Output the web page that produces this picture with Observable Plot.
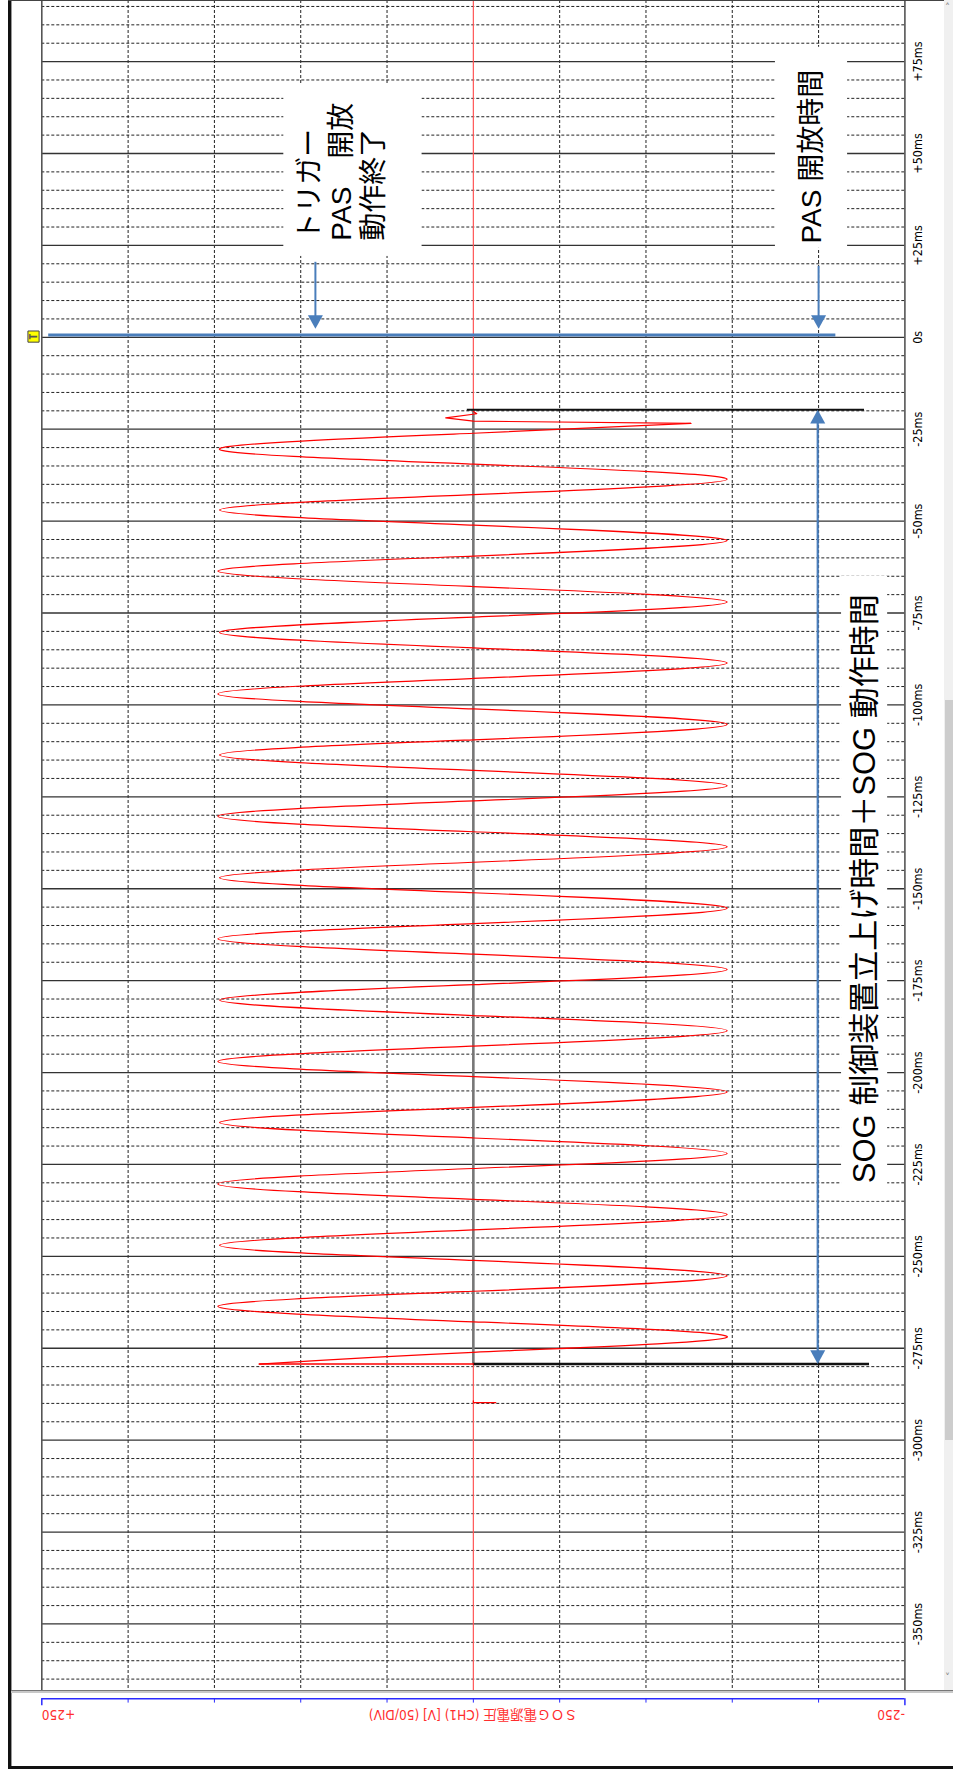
<!DOCTYPE html>
<html><head><meta charset="utf-8">
<script src="https://cdn.jsdelivr.net/npm/d3@7"></script>
<script src="https://cdn.jsdelivr.net/npm/@observablehq/plot@0.6"></script>
<style>
body{margin:0;background:#fff;}
#wrap{position:relative;width:953px;height:1771px;overflow:hidden;background:#fff;}
#wrap svg{position:absolute;left:0;top:0;}
.chrome{position:absolute;}
</style></head><body><div id="wrap"></div>
<script>
// ---------- data ----------
const voltTicks = [250, 200, 150, 100, 50, 0, -50, -100, -150, -200, -250];
const voltEndLabels = ["+250", "-250"];
const axisTitle = "ＳＯＧ電源電圧 (CH1) [V] (50/DIV)";
const timeMajor = [75, 50, 25, 0, -25, -50, -75, -100, -125, -150, -175, -200, -225, -250, -275, -300, -325, -350];
const timeLabels = ["+75ms", "+50ms", "+25ms", "0s", "-25ms", "-50ms", "-75ms", "-100ms", "-125ms", "-150ms", "-175ms", "-200ms", "-225ms", "-250ms", "-275ms", "-300ms", "-325ms", "-350ms"];

// SOG supply voltage trace (ms, V): start step, sine peaks/zeros, cut-off transient
const stepT = [-279.3, -279.3];
const stepV = [0, 124];
const sineT = [-279.3, -276.1, -272.0, -267.8, -263.6, -259.5, -255.3, -251.1, -247.0, -242.8, -238.6, -234.5,
  -230.3, -226.1, -222.0, -217.8, -213.6, -209.5, -205.3, -201.1, -197.0, -192.8, -188.6, -184.5,
  -180.3, -176.1, -172.0, -167.8, -163.6, -159.5, -155.3, -151.1, -147.0, -142.8, -138.6, -134.5,
  -130.3, -126.1, -122.0, -117.8, -113.6, -109.5, -105.3, -101.1, -97.0, -92.8, -88.6, -84.5,
  -80.3, -76.1, -72.0, -67.8, -63.6, -59.5, -55.3, -51.1, -47.0, -42.8, -38.6, -34.5,
  -30.3, -26.1, -23.4];
const sineV = [124, 0, -147, 0, 148, 0, -147, 0, 147, 0, -147, 0,
  148, 0, -147, 0, 147, 0, -147, 0, 148, 0, -147, 0,
  147, 0, -147, 0, 148, 0, -147, 0, 147, 0, -147, 0,
  148, 0, -147, 0, 147, 0, -147, 0, 148, 0, -147, 0,
  147, 0, -147, 0, 148, 0, -147, 0, 147, 0, -147, 0,
  147, 0, -126];
const endT = [-23.4, -22.8, -21.9, -20.8, -20.2];
const endV = [-126, 0, 16, -2, 0];
const blipT = [-289.3, -289.8, -289.8];
const blipV = [0, 0, -13];

// event markers (ms)
const tStart = -279.3, tEnd = -19.7, tTrigger = 0.6;

// annotations
const note1 = "トリガー\nPAS\u3000開放\n動作終了";
const note2 = "PAS 開放時間";
const note3 = "SOG 制御装置立上げ時間＋SOG 動作時間";

// ---------- scales ----------
const W = 953, H = 1771;
const xDomain = [250, -250], yDomain = [-368.1, 91.62];
const xRange = [41.3, 904.4], yRange = [1690, 0];
const yS = Plot.scale({y: {domain: yDomain, range: yRange}});
const ty = px => yS.invert(px);

const blue = "#4a7ebb";
const jp = "'Liberation Sans', Arial, 'Noto Sans CJK JP', sans-serif";
const small = "'DejaVu Sans Condensed', 'Liberation Sans Narrow', 'DejaVu Sans', sans-serif";

const tri = (dir) => ({draw(ctx) {
  ctx.moveTo(0, 0); ctx.lineTo(-7.5, -13.7 * dir); ctx.lineTo(7.5, -13.7 * dir); ctx.closePath();
}});
const down = tri(1), up = tri(-1);

const minorT = d3.range(90, -366, -5).filter(t => t % 25 !== 0);
const innerV = voltTicks.filter(v => Math.abs(v) !== 250 && v !== 0);

const yAxis = ty(1698.3), yTick = ty(1702.6), yTickEnd = ty(1705.2), yLab = ty(1713.5);

const marks = [
  // grid
  Plot.ruleY(minorT, {y: d => d, x1: 250, x2: -250, stroke: "#222", strokeWidth: 1, strokeDasharray: "3,2"}),
  Plot.ruleX(innerV, {x: d => d, stroke: "#222", strokeWidth: 1, strokeDasharray: "3,2"}),
  Plot.ruleY(timeMajor, {y: d => d, x1: 250, x2: -250, stroke: "#333", strokeWidth: 1.3}),
  Plot.ruleX([250, -250], {x: d => d, stroke: "#555", strokeWidth: 1.6}),
  // 0 V trace baseline
  Plot.ruleX([0], {x: d => d, stroke: "#ff5555", strokeWidth: 1.2}),
  Plot.ruleX([0], {x: d => d, y1: tStart, y2: tEnd, stroke: "#777", strokeWidth: 2.6}),
  // start / end markers
  Plot.ruleY([tEnd], {y: d => d, x1: 3.5, x2: -226.6, stroke: "#111", strokeWidth: 2}),
  Plot.ruleY([tStart], {y: d => d, x1: 0, x2: -229.5, stroke: "#111", strokeWidth: 2.4}),
  // trace
  Plot.line(blipT.map((t, i) => ({t, v: blipV[i]})), {x: "v", y: "t", stroke: "#f00", strokeWidth: 1.2}),
  Plot.line(stepT.map((t, i) => ({t, v: stepV[i]})), {x: "v", y: "t", stroke: "#f00", strokeWidth: 1.6}),
  Plot.line(sineT.map((t, i) => ({t, v: sineV[i]})), {x: "v", y: "t", stroke: "#f00", strokeWidth: 1.2, curve: "natural"}),
  Plot.line(endT.map((t, i) => ({t, v: endV[i]})), {x: "v", y: "t", stroke: "#f00", strokeWidth: 1.2}),
  // trigger line
  Plot.ruleY([tTrigger], {y: d => d, x1: 246, x2: -210, stroke: blue, strokeWidth: 3}),
  // double arrow
  Plot.ruleX([-199.5], {x: d => d, y1: tStart + 3, y2: tEnd - 3, stroke: blue, strokeWidth: 2.2}),
  Plot.dot([{v: -199.5, t: tEnd}], {x: "v", y: "t", symbol: up, r: 5, fill: blue, stroke: "none"}),
  Plot.dot([{v: -199.5, t: tStart}], {x: "v", y: "t", symbol: down, r: 5, fill: blue, stroke: "none"}),
  // down arrows to trigger
  Plot.ruleX([91.5], {x: d => d, y1: 4, y2: 20.4, stroke: blue, strokeWidth: 2}),
  Plot.dot([{v: 91.5, t: 2.3}], {x: "v", y: "t", symbol: down, r: 5, fill: blue, stroke: "none"}),
  Plot.ruleX([-200], {x: d => d, y1: 4, y2: 19.3, stroke: blue, strokeWidth: 2}),
  Plot.dot([{v: -200, t: 2.3}], {x: "v", y: "t", symbol: down, r: 5, fill: blue, stroke: "none"}),
  // annotation boxes
  Plot.rect([0], {x1: 109.8, x2: 29.7, y1: 22.0, y2: 69.0, fill: "white"}),
  Plot.rect([0], {x1: -175, x2: -216.8, y1: 24.2, y2: 78.9, fill: "white"}),
  Plot.rect([0], {x1: -213.3, x2: -240, y1: -235, y2: -65, fill: "white"}),
  Plot.text([note1], {x: 76.9, y: 26.3, text: d => d, rotate: -90, textAnchor: "start", lineAnchor: "middle",
    lineHeight: 1.16, fontSize: 28, fontFamily: jp, fill: "#000"}),
  Plot.text([note2], {x: -196.1, y: 25.5, text: d => d, rotate: -90, textAnchor: "start", lineAnchor: "middle",
    fontSize: 28, fontFamily: jp, fill: "#000"}),
  Plot.text([note3], {x: -227.2, y: -150, text: d => d, rotate: -90, textAnchor: "middle", lineAnchor: "middle",
    fontSize: 31, fontFamily: jp, fill: "#000"}),
  // trigger marker
  Plot.dot([{v: 254.8, t: 0.2}], {x: "v", y: "t", symbol: "square", r: 6.3, fill: "#ffff00", stroke: "#444", strokeWidth: 1}),
  Plot.text([{v: 254.8, t: 0.2}], {x: "v", y: "t", text: () => "T", rotate: -90, fontSize: 10, fontWeight: "bold", fill: "#555", lineAnchor: "middle"}),
  // time tick labels (right)
  Plot.text(timeMajor, {x: -250, y: d => d, dx: 13, text: (d, i) => timeLabels[i], rotate: -90, textAnchor: "middle",
    lineAnchor: "middle", fontSize: 12.5, fontFamily: small, fill: "#000"}),
  // bottom voltage axis
  Plot.ruleY([yAxis], {y: d => d, x1: 250, x2: -250, stroke: "#2a2aff", strokeWidth: 1.5}),
  Plot.ruleX(innerV.concat([0]), {x: d => d, y1: yAxis, y2: yTick, stroke: "#2a2aff", strokeWidth: 1}),
  Plot.ruleX([250, -250], {x: d => d, y1: yAxis, y2: yTickEnd, stroke: "#2a2aff", strokeWidth: 1.5}),
  Plot.text([voltEndLabels[0]], {x: 250, y: yLab, text: d => d, rotate: 180, textAnchor: "end", lineAnchor: "middle",
    fontSize: 13.5, fontFamily: small, fill: "#ff2d2d"}),
  Plot.text([voltEndLabels[1]], {x: -250, y: yLab, text: d => d, rotate: 180, textAnchor: "start", lineAnchor: "middle",
    fontSize: 13.5, fontFamily: small, fill: "#ff2d2d"}),
  Plot.text([axisTitle], {x: 0, y: yLab, text: d => d, rotate: 180, textAnchor: "middle", lineAnchor: "middle",
    fontSize: 13.5, fontFamily: small + ", 'Noto Sans CJK JP'", fill: "#ff2d2d"})
];

const chart = Plot.plot({
  width: W, height: H,
  marginLeft: xRange[0], marginRight: W - xRange[1], marginTop: 0, marginBottom: H - yRange[0],
  x: {domain: xDomain, axis: null},
  y: {domain: yDomain, axis: null},
  style: {background: "transparent", overflow: "visible"},
  marks
});
const wrap = document.getElementById("wrap");
wrap.appendChild(chart);

// window chrome (screenshot frame, separator, scrollbar)
const chrome = [
  {l: 0, t: 0, w: 8, h: 1771, bg: "#fff"},
  {l: 8, t: 0, w: 3, h: 1769, bg: "#111"},
  {l: 11, t: 0, w: 1, h: 1769, bg: "#999"},
  {l: 8, t: 0, w: 936, h: 1, bg: "#444"},
  {l: 11, t: 1690, w: 942, h: 1, bg: "#777"},
  {l: 11, t: 1691, w: 942, h: 2, bg: "#c8c8c8"},
  {l: 8, t: 1766, w: 945, h: 3, bg: "#111"},
  {l: 944, t: 0, w: 9, h: 1690, bg: "#f0f0f0"},
  {l: 945, t: 700, w: 8, h: 740, bg: "#cdcdcd"}
];
for (const c of chrome) {
  const d = document.createElement("div");
  d.className = "chrome";
  Object.assign(d.style, {left: c.l + "px", top: c.t + "px", width: c.w + "px", height: c.h + "px", background: c.bg});
  wrap.appendChild(d);
}
for (const [txt, top] of [["˄", 2], ["˅", 1672]]) {
  const d = document.createElement("div");
  d.className = "chrome";
  Object.assign(d.style, {left: "945px", top: top + "px", font: "10px 'DejaVu Sans', sans-serif", color: "#888"});
  d.textContent = txt;
  wrap.appendChild(d);
}
</script>
</body></html>
